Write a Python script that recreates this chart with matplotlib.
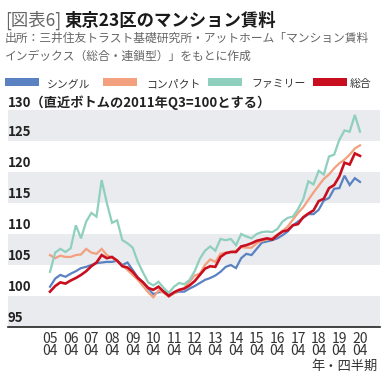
import matplotlib
matplotlib.use("Agg")
import matplotlib.pyplot as plt
from matplotlib.patches import Rectangle
from matplotlib.transforms import blended_transform_factory, offset_copy

plt.rcParams['font.family'] = ['Noto Sans CJK JP', 'DejaVu Sans']

# quarterly index, 2005Q4 .. 2020Q4 (2011Q3 = 100)
years = ['05', '06', '07', '08', '09', '10', '11', '12', '13', '14',
         '15', '16', '17', '18', '19', '20']
quarter = '04'

single = [101.5, 102.8, 103.4, 103.1, 103.6, 104.0, 104.5, 104.7, 105.0, 105.3,
          105.4, 105.5, 105.5, 105.7, 105.0, 105.4, 104.2, 103.0, 102.2, 101.2,
          100.3, 100.6, 100.7, 100.2, 100.5, 100.7, 100.7, 101.2, 101.6, 102.1,
          102.6, 102.9, 103.3, 103.9, 104.7, 105.0, 104.5, 106.1, 106.8, 106.6,
          107.6, 108.6, 108.8, 109.0, 109.3, 109.8, 110.4, 111.4, 112.0, 112.6,
          113.2, 113.2, 113.9, 115.4, 115.8, 117.3, 117.4, 119.4, 117.9, 119.0,
          118.4]
compact = [106.6, 106.1, 106.5, 106.3, 106.3, 106.6, 106.7, 107.6, 107.0, 106.8,
           107.6, 106.6, 106.2, 105.6, 104.9, 104.2, 103.4, 102.6, 101.6, 100.6,
           99.8, 100.9, 100.5, 99.9, 100.4, 100.9, 101.3, 102.3, 103.3, 103.6,
           105.0, 105.9, 105.5, 106.8, 107.0, 107.1, 107.3, 107.9, 107.8, 107.8,
           108.5, 108.9, 109.1, 109.3, 109.9, 110.5, 111.2, 112.3, 113.4, 114.3,
           115.5, 116.7, 117.8, 118.9, 119.6, 120.6, 121.4, 122.0, 122.8, 123.8,
           124.3]
family = [103.9, 107.0, 107.6, 107.1, 107.7, 111.4, 109.3, 112.0, 113.4, 112.8,
          118.7, 115.0, 111.8, 112.2, 109.0, 108.5, 107.8, 105.5, 103.8, 102.2,
          101.7, 102.3, 101.3, 100.5, 101.5, 102.1, 101.9, 102.6, 104.0, 106.0,
          107.3, 108.0, 107.3, 109.2, 109.0, 109.2, 108.2, 110.0, 109.6, 109.3,
          110.0, 110.3, 110.4, 110.3, 110.8, 112.0, 112.6, 112.8, 114.0, 115.6,
          118.5, 118.0, 120.2, 119.6, 122.5, 122.8, 125.2, 126.7, 126.5, 129.2,
          126.5]
total = [100.7, 101.6, 102.2, 102.0, 102.5, 102.9, 103.4, 104.0, 104.8, 105.4,
         106.6, 106.1, 106.3, 105.7, 104.8, 104.6, 103.9, 102.9, 102.2, 101.3,
         101.0, 101.5, 100.7, 100.0, 100.6, 101.0, 101.2, 101.7, 102.4, 103.4,
         104.4, 104.8, 104.7, 106.3, 106.9, 107.1, 107.1, 108.0, 108.2, 108.5,
         108.9, 109.1, 109.3, 109.1, 109.8, 110.4, 110.6, 111.4, 111.6, 112.7,
         113.3, 113.8, 115.3, 115.7, 117.4, 117.9, 119.3, 121.5, 121.2, 123.0,
         122.6]

series = [
    ('シングル', single, '#5a82c2', 1.6),
    ('コンパクト', compact, '#f2a07e', 1.6),
    ('ファミリー', family, '#8ecfbe', 1.6),
    ('総合', total, '#c90f1f', 1.9),
]

W, H = 388, 376
fig = plt.figure(figsize=(W / 100, H / 100), dpi=100)

# axes box in pixels: x 8..380, y 110..327
ax = fig.add_axes([8 / W, 1 - 327 / H, 372 / W, 217 / H])
ax.set_xlim(-8.13, 63.87)
ax.set_ylim(95, 130)

for lo in [95, 105, 115, 125]:
    ax.axhspan(lo, lo + 5, color='#e9ebee', lw=0, zorder=0)

x = list(range(len(total)))
for name, vals, color, lw in series:
    ax.plot(x, vals, color=color, lw=lw, solid_joinstyle='miter', zorder=3)

for s in ['top', 'left', 'right']:
    ax.spines[s].set_visible(False)
ax.spines['bottom'].set_color('#222222')
ax.spines['bottom'].set_linewidth(1.2)
ax.set_xticks([])
ax.set_yticks([])

# y labels sit inside the axes, above each 5-step line
ytr = blended_transform_factory(ax.transAxes, ax.transData)
for v in [95, 100, 105, 110, 115, 120, 125]:
    ax.text(0.0, v + 0.8, str(v), transform=ytr, ha='left', va='baseline',
            fontsize=9.5, fontweight='bold', color='#222222')
ax.text(0.0, 130.5, '130（直近ボトムの2011年Q3=100とする）', transform=ytr,
        ha='left', va='baseline', fontsize=9.5, fontweight='bold',
        color='#222222', clip_on=False)

# two-line x labels (year / quarter)
xtr = blended_transform_factory(ax.transData, ax.transAxes)
rows = offset_copy(xtr, fig=fig, y=-5, units='dots')
for k, yr in enumerate(years):
    ax.text(k * 4, 0, yr + '\n' + quarter, transform=rows, ha='center',
            va='top', fontsize=10, linespacing=0.85, color='#333333')
fig.text(378 / W, 1 - 370 / H, '年・四半期', ha='right', va='baseline',
         fontsize=9.5, color='#333333')

# title
t1 = fig.text(5 / W, 1 - 26 / H, '[図表6]', ha='left', va='baseline',
              fontsize=12.5, color='#666666')
r = fig.canvas.get_renderer()
bb = t1.get_window_extent(renderer=r)
fig.text((bb.x1 + 3) / W, 1 - 26 / H, '東京23区のマンション賃料', ha='left',
         va='baseline', fontsize=12.5, fontweight='bold', color='#1a1a1a')

fig.text(5 / W, 1 - 42 / H, '出所：三井住友トラスト基礎研究所・アットホーム「マンション賃料',
         ha='left', va='baseline', fontsize=8.5, color='#666666')
fig.text(5 / W, 1 - 60 / H, 'インデックス（総合・連鎖型）」をもとに作成',
         ha='left', va='baseline', fontsize=8.5, color='#666666')

# legend
patch_x = [5, 103, 208, 313]
label_x = [47, 146, 251, 350]
for (name, vals, color, lw), px, lx in zip(series, patch_x, label_x):
    fig.patches.append(Rectangle((px / W, 1 - 86 / H), 34 / W, 7.5 / H,
                                 transform=fig.transFigure, color=color, lw=0))
    fig.text(lx / W, 1 - 87 / H, name, ha='left', va='baseline',
             fontsize=7.8, color='#333333')

fig.savefig('out.png', dpi=100)
